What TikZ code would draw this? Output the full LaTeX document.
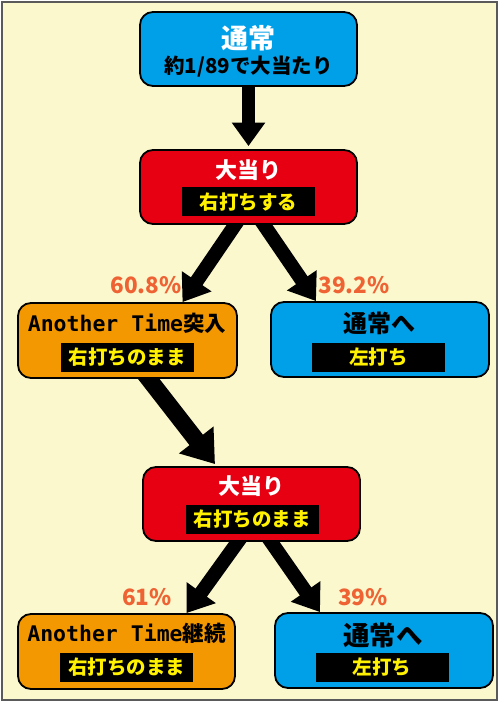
\documentclass[tikz,border=0pt]{standalone}
\usepackage{fontspec}
\setmainfont{Noto Sans CJK JP}
\newfontfamily\latinmono{DejaVu Sans Mono}
\usetikzlibrary{arrows.meta, backgrounds}
\definecolor{cream}{RGB}{250,248,204}
\definecolor{frame}{RGB}{90,90,90}
\definecolor{normalblue}{RGB}{0,160,233}
\definecolor{hitred}{RGB}{230,0,18}
\definecolor{atorange}{RGB}{243,152,0}
\definecolor{ratecol}{RGB}{238,98,52}
\definecolor{tagyellow}{RGB}{255,241,0}

\tikzset{
	box/.style={draw=black, line width=1.8pt, rounded corners=13pt, minimum width=217pt, minimum height=74pt, inner sep=0pt},
	title/.style={inner sep=0pt, font=\bfseries\fontsize{22}{22}\selectfont},
	tag/.style={fill=black, text=tagyellow, inner sep=0pt, minimum width=133pt, minimum height=29pt, font=\bfseries\fontsize{19.5}{19.5}\selectfont},
	rate/.style={text=ratecol, inner sep=0pt, font=\bfseries\fontsize{22.5}{22.5}\selectfont},
	flow/.style={line width=#1, -{Triangle[width=2.45*#1, length=1.8*#1]}},
}

\begin{document}
\begin{tikzpicture}[x=1pt, y=-1pt]

	\useasboundingbox (0,0) rectangle (500,703);

	\node[box, fill=normalblue] (start) at (248.5,49) {};
	\node[box, fill=hitred] (hit1) at (248.5,187) {};
	\node[box, fill=atorange, minimum width=219pt, minimum height=75pt] (at1) at (127.5,340.5) {};
	\node[box, fill=normalblue, minimum width=218pt, minimum height=75pt] (back1) at (380,339.5) {};
	\node[box, fill=hitred] (hit2) at (251.5,504) {};
	\node[box, fill=atorange, minimum height=75pt] (at2) at (126.5,651.5) {};
	\node[box, fill=normalblue, minimum width=218pt, minimum height=75pt] (back2) at (384,650.5) {};

	\node[title, text=white, font=\bfseries\fontsize{27}{27}\selectfont] (startname) at (248.5,38) {通常};
	\node[title, font=\bfseries\fontsize{20.5}{20.5}\selectfont] (startodds) at (248.5,67) {約1/89で大当たり};

	\node[title, text=white] (hit1name) at (248,170) {大当り};
	\node[tag] (hit1tag) at (248.5,202) {右打ちする};

	\node[title, font=\bfseries\fontsize{21.5}{21.5}\selectfont] (at1name) at (127,323) {{\latinmono Another Time}突入};
	\node[tag] (at1tag) at (127,357.5) {右打ちのまま};

	\node[title, font=\bfseries\fontsize{24}{24}\selectfont] (back1name) at (379,323) {通常へ};
	\node[tag] (back1tag) at (378.5,357.5) {左打ち};

	\node[title, text=white] (hit2name) at (251,486) {大当り};
	\node[tag] (hit2tag) at (252,519.5) {右打ちのまま};

	\node[title, font=\bfseries\fontsize{21.5}{21.5}\selectfont] (at2name) at (126.5,633) {{\latinmono Another Time}継続};
	\node[tag] (at2tag) at (126.5,667.5) {右打ちのまま};

	\node[title, font=\bfseries\fontsize{26.5}{26.5}\selectfont] (back2name) at (383,635) {通常へ};
	\node[tag] (back2tag) at (382,667.5) {左打ち};

	\node[rate] (rate1) at (146,285) {60.8\%};
	\node[rate] (rate2) at (354,285) {39.2\%};
	\node[rate] (rate3) at (147,597) {61\%};
	\node[rate] (rate4) at (363,597) {39\%};

	\begin{scope}[on background layer]
		\draw[frame, fill=cream, line width=1.5pt] (2,2) rectangle (497,700);
		\draw[flow=13pt] ([yshift=6pt]start.south) -- ([yshift=3pt]hit1.north);
		\draw[flow=14pt] ([xshift=-8pt, yshift=8pt]hit1.south) -- ([xshift=55pt]at1.north);
		\draw[flow=14pt] ([xshift=10pt, yshift=8pt]hit1.south) -- ([xshift=-64pt]back1.north);
		\draw[flow=17pt] ([xshift=15pt, yshift=8pt]at1.south) -- ([xshift=-36.5pt, yshift=2pt]hit2.north);
		\draw[flow=14pt] ([xshift=-8pt, yshift=8pt]hit2.south) -- ([xshift=60pt]at2.north);
		\draw[flow=14pt] ([xshift=14pt, yshift=8pt]hit2.south) -- ([xshift=-64pt]back2.north);
	\end{scope}

\end{tikzpicture}
\end{document}
